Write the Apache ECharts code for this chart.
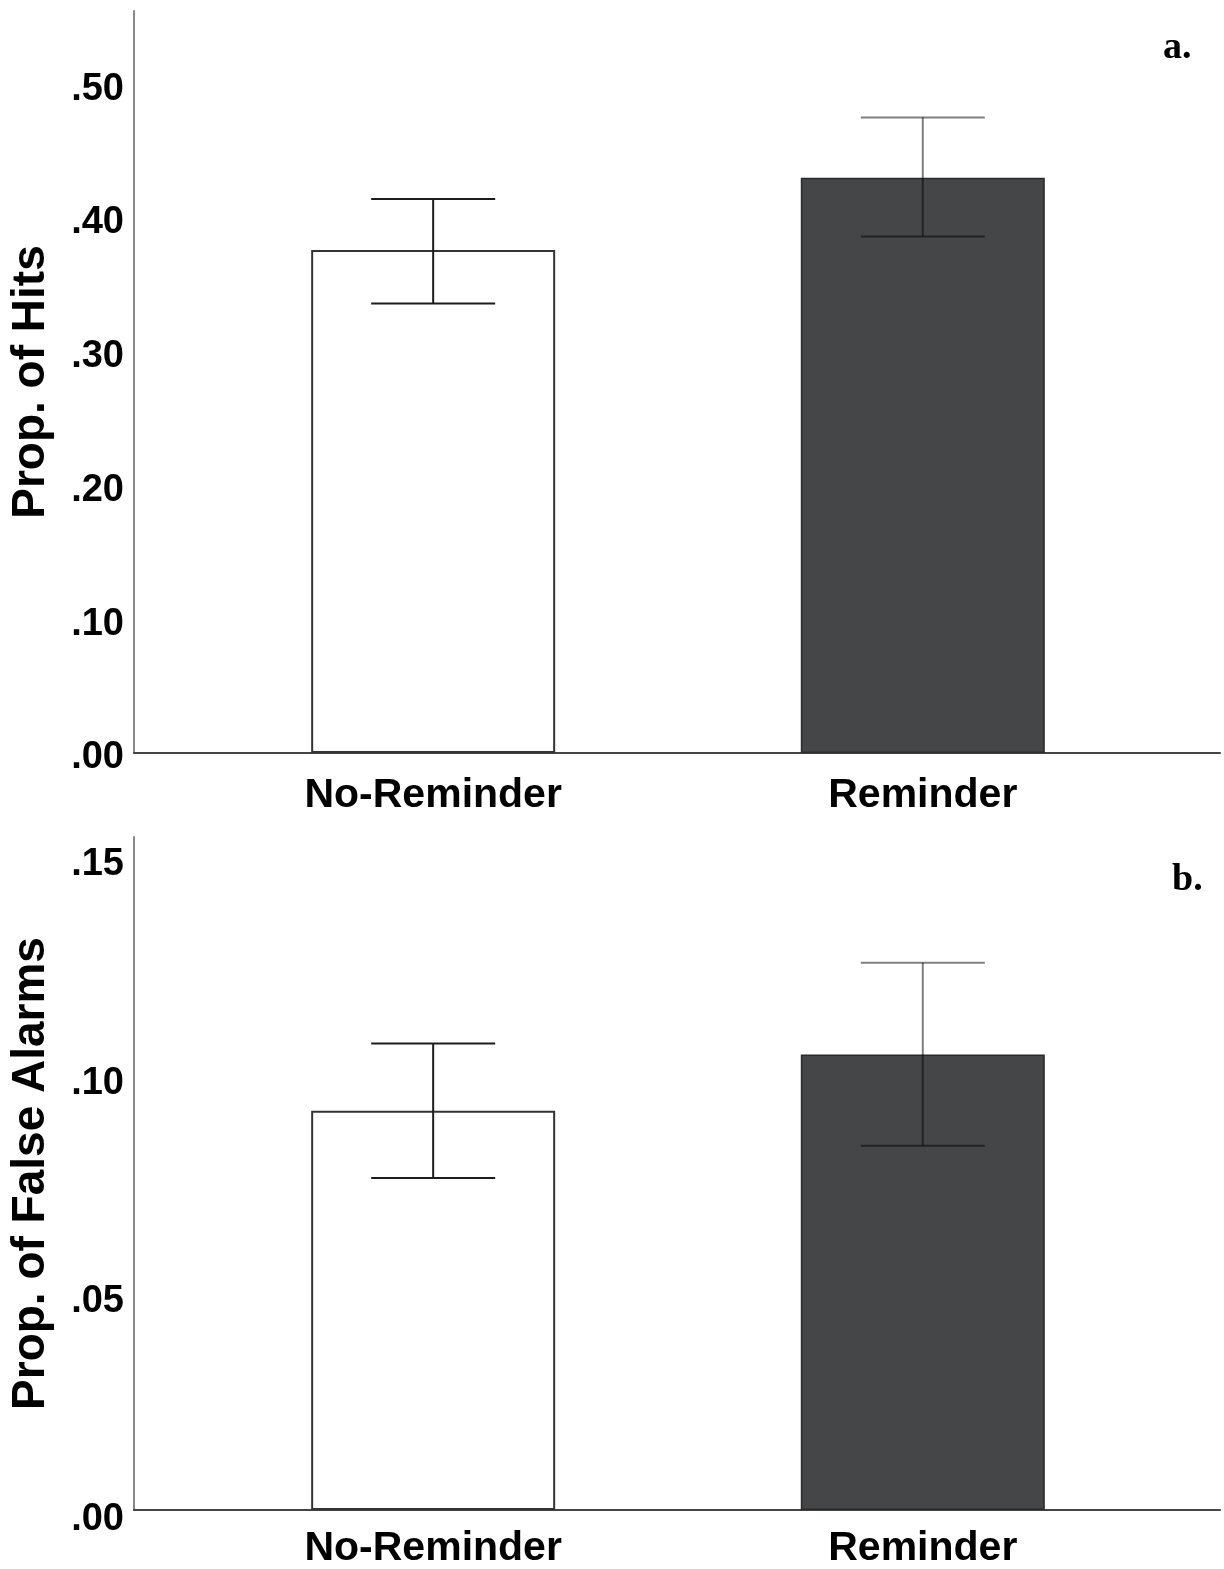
<!DOCTYPE html>
<html>
<head>
<meta charset="utf-8">
<script src="https://cdn.jsdelivr.net/npm/echarts@6/dist/echarts.min.js"></script>
<style>
html,body{margin:0;padding:0;background:#fff;}
#c{width:1224px;height:1569px;}
</style>
</head>
<body>
<div id="c"></div>
<script>
// ---- data ----
const categories = ['No-Reminder', 'Reminder'];
const hitsMean = [0.376, 0.430];
const hitsLow = [0.336, 0.386];
const hitsHigh = [0.414, 0.475];
const faMean = [0.0914, 0.1043];
const faLow = [0.0760, 0.0834];
const faHigh = [0.1068, 0.1253];
const hitsTicks = [0, 0.1, 0.2, 0.3, 0.4, 0.5];
const faTicks = [0, 0.05, 0.10, 0.15];
const catTicks = [0, 1];

// ---- styles ----
const barStyles = [
  {color: '#ffffff', borderColor: '#333333', borderWidth: 2},
  {color: '#454648', borderColor: '#2a2a2c', borderWidth: 1.5}
];
const errColors = ['#1c1c1c', 'rgba(0,0,0,0.5)'];
const fmt = v => '{t|' + v.toFixed(2).replace(/^0/, '') + '}';

function errSeries(low, high, axisIdx) {
  return {
    type: 'custom', xAxisIndex: axisIdx, yAxisIndex: axisIdx, z: 5,
    data: low.map((l, i) => [i, l, high[i]]),
    renderItem: function (params, api) {
      const i = api.value(0);
      const pl = api.coord([i, api.value(1)]);
      const ph = api.coord([i, api.value(2)]);
      const hw = 62;
      const st = {stroke: errColors[i], lineWidth: 2};
      return {type: 'group', children: [
        {type: 'line', shape: {x1: pl[0], y1: pl[1], x2: ph[0], y2: ph[1]}, style: st},
        {type: 'line', shape: {x1: pl[0] - hw, y1: pl[1], x2: pl[0] + hw, y2: pl[1]}, style: st},
        {type: 'line', shape: {x1: ph[0] - hw, y1: ph[1], x2: ph[0] + hw, y2: ph[1]}, style: st}
      ]};
    }
  };
}

function barSeries(vals, axisIdx) {
  return {
    type: 'bar', xAxisIndex: axisIdx, yAxisIndex: axisIdx, barWidth: 244, z: 2,
    data: vals.map((v, i) => ({value: [i, v], itemStyle: barStyles[i]}))
  };
}

function xAx(gridIndex, margin) {
  return {
    type: 'value', gridIndex, min: -0.611, max: 1.607,
    splitLine: {show: false},
    axisTick: {show: false},
    axisLine: {show: true, onZero: false, lineStyle: {color: '#444', width: 2}},
    axisLabel: {
      customValues: catTicks, margin: margin,
      formatter: v => categories[Math.round(v)] || '',
      fontFamily: 'Liberation Sans', fontWeight: 'bold', fontSize: 41, color: '#000'
    }
  };
}

function yAx(gridIndex, max, ticks, name, pad) {
  return {
    type: 'value', gridIndex, min: 0, max: max,
    name: name, nameLocation: 'middle', nameGap: 80, nameRotate: 90,
    nameTextStyle: {fontFamily: 'Liberation Sans', fontWeight: 'bold', fontSize: 46, color: '#000'},
    splitLine: {show: false},
    axisTick: {show: false},
    axisLine: {show: true, onZero: false, lineStyle: {color: '#888', width: 2}},
    axisLabel: {
      customValues: ticks, formatter: fmt, margin: 10,
      rich: {t: {padding: [pad, 0, 0, 0], fontFamily: 'Liberation Sans', fontWeight: 'bold', fontSize: 38, color: '#000'}},
      fontFamily: 'Liberation Sans', fontWeight: 'bold', fontSize: 38, color: '#000'
    }
  };
}

const chart = echarts.init(document.getElementById('c'), null, {renderer: 'canvas'});
chart.setOption({
  animation: false,
  backgroundColor: '#fff',
  grid: [
    {left: 134, right: 4, top: 11, bottom: 1569 - 753},
    {left: 134, right: 4, top: 837, bottom: 1569 - 1512}
  ],
  xAxis: [xAx(0, 22), xAx(1, 18)],
  yAxis: [
    yAx(0, 0.5546, hitsTicks, 'Prop. of Hits', 10),
    yAx(1, 0.1541, faTicks, 'Prop. of False Alarms', 20)
  ],
  graphic: [
    {type: 'text', left: 1163, top: 29, style: {text: 'a.', font: 'bold 38px "Liberation Serif"', fill: '#000'}},
    {type: 'text', left: 1172, top: 861, style: {text: 'b.', font: 'bold 38px "Liberation Serif"', fill: '#000'}}
  ],
  series: [
    barSeries(hitsMean, 0), errSeries(hitsLow, hitsHigh, 0),
    barSeries(faMean, 1), errSeries(faLow, faHigh, 1)
  ]
});
</script>
</body>
</html>
